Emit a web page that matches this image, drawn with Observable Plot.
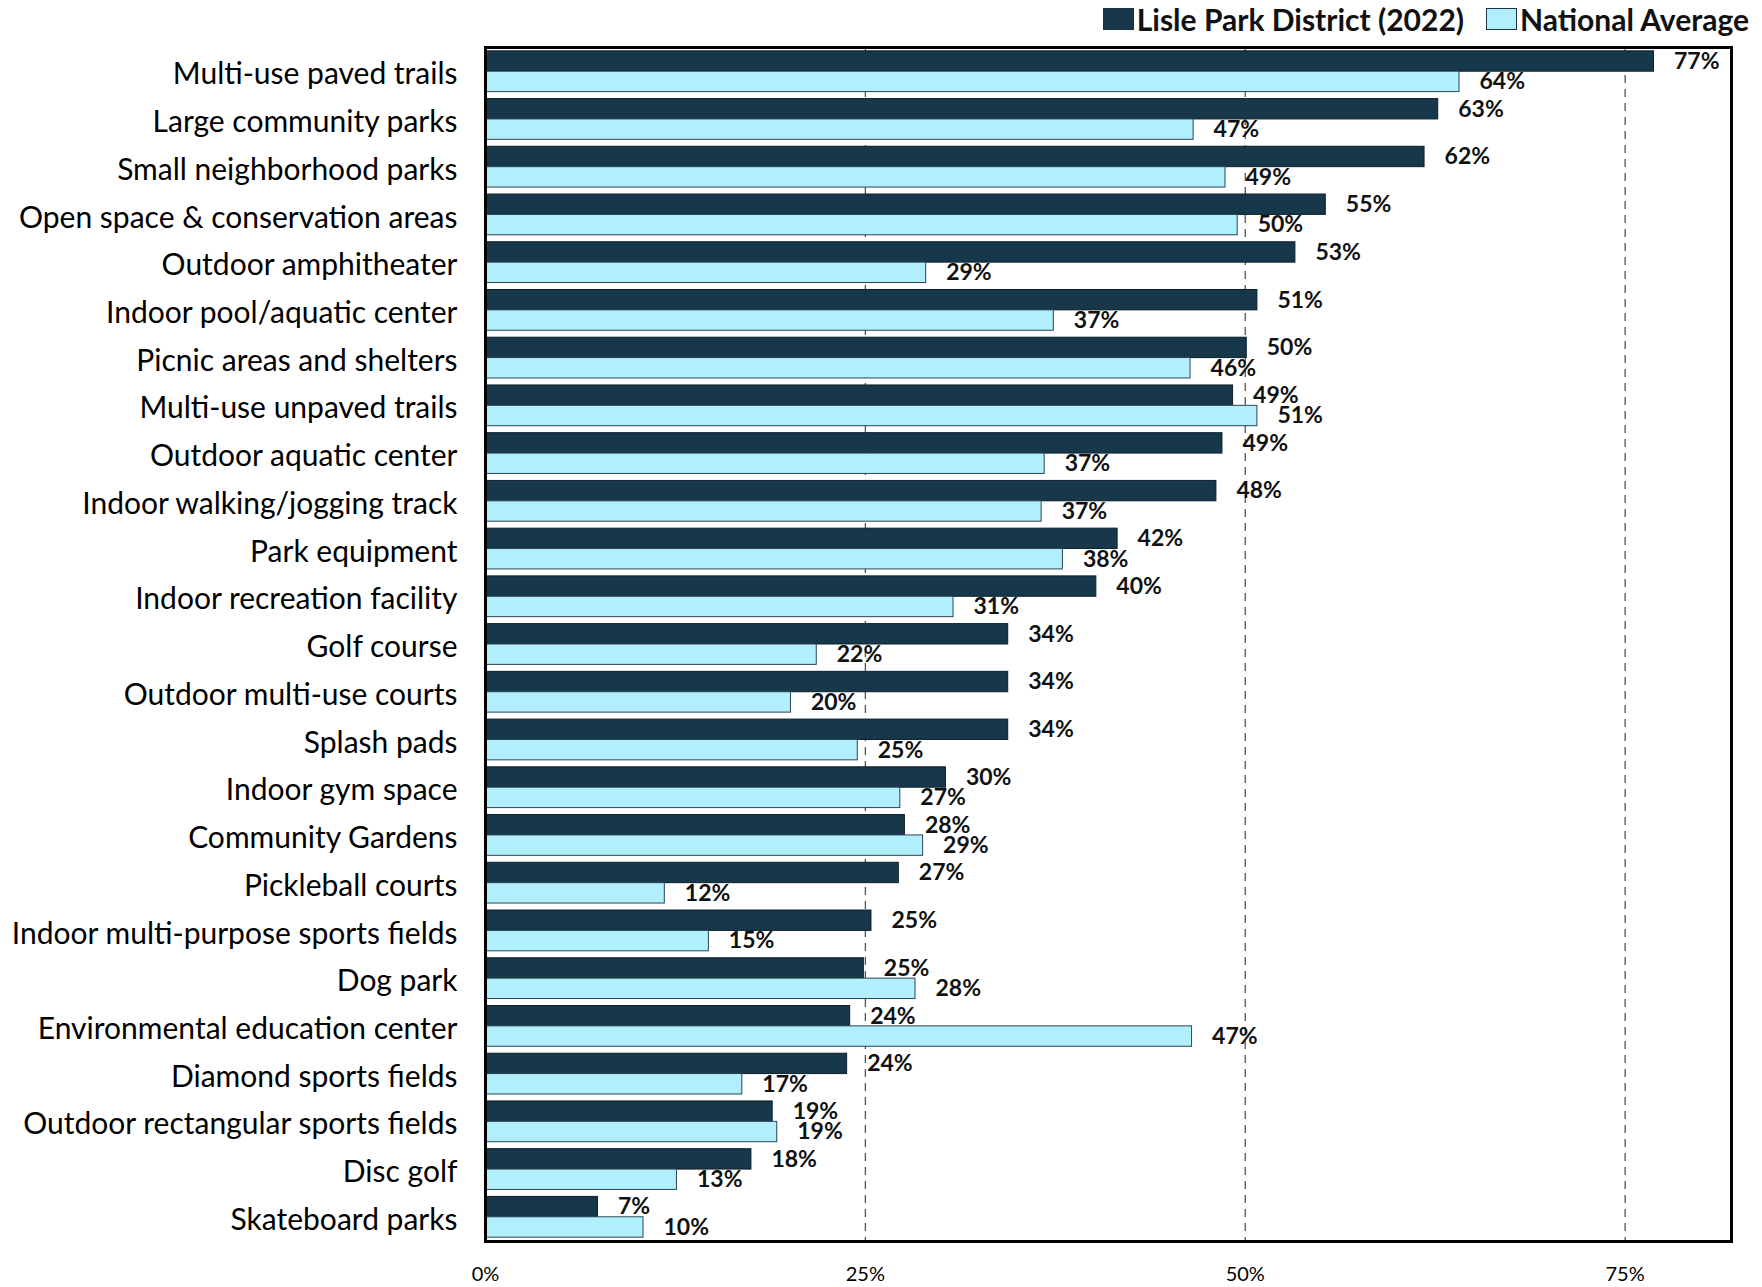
<!DOCTYPE html>
<html>
<head>
<meta charset="utf-8">
<script src="https://cdn.jsdelivr.net/npm/d3@7"></script>
<script src="https://cdn.jsdelivr.net/npm/@observablehq/plot@0.6"></script>
<style>
  html, body { margin: 0; padding: 0; background: #fff; }
  #wrap { position: relative; width: 1762px; height: 1287px; font-family: Lato, "Noto Sans", sans-serif; }
  #legend { position: absolute; top: 1px; right: 13px; display: flex; align-items: center; font-weight: bold; font-size: 30px; color: #111; z-index: 2; }
  #legend .item { display: flex; align-items: center; margin-left: 22px; }
  #legend .item:first-child { margin-left: 0; }
  #legend .sw { width: 31px; height: 22px; margin-right: 3px; box-sizing: border-box; border: 1px solid #1d3342; }
  #chart { position: absolute; left: 0; top: 0; }
</style>
</head>
<body>
<div id="wrap">
  <div id="legend"></div>
  <div id="chart"></div>
</div>
<script>
const categories = [
  "Multi-use paved trails",
  "Large community parks",
  "Small neighborhood parks",
  "Open space & conservation areas",
  "Outdoor amphitheater",
  "Indoor pool/aquatic center",
  "Picnic areas and shelters",
  "Multi-use unpaved trails",
  "Outdoor aquatic center",
  "Indoor walking/jogging track",
  "Park equipment",
  "Indoor recreation facility",
  "Golf course",
  "Outdoor multi-use courts",
  "Splash pads",
  "Indoor gym space",
  "Community Gardens",
  "Pickleball courts",
  "Indoor multi-purpose sports fields",
  "Dog park",
  "Environmental education center",
  "Diamond sports fields",
  "Outdoor rectangular sports fields",
  "Disc golf",
  "Skateboard parks"
];
const lisleValues = [76.9, 62.7, 61.8, 55.3, 53.3, 50.8, 50.1, 49.2, 48.5, 48.1, 41.6, 40.2, 34.4, 34.4, 34.4, 30.3, 27.6, 27.2, 25.4, 24.9, 24.0, 23.8, 18.9, 17.5, 7.4];
const nationalValues = [64.1, 46.6, 48.7, 49.5, 29.0, 37.4, 46.4, 50.8, 36.8, 36.6, 38.0, 30.8, 21.8, 20.1, 24.5, 27.3, 28.8, 11.8, 14.7, 28.3, 46.5, 16.9, 19.2, 12.6, 10.4];
const seriesNames = ["Lisle Park District (2022)", "National Average"];
const seriesColors = ["#17374b", "#b2effd"];
const tickValues = [0, 25, 50, 75];
const gridValues = [25, 50, 75];

const W = 1762, H = 1287;
const mTop = 47, mBottom = 46, mLeft = 485, mRight = 31;
const padIn = 0.146, padOut = 0.08;
const step = (H - mTop - mBottom) / (categories.length - padIn + 2 * padOut);
const bw = step * (1 - padIn);
const half = bw / 2;

const lisleData = categories.map((c, i) => ({category: c, series: seriesNames[0], value: lisleValues[i]}));
const natData = categories.map((c, i) => ({category: c, series: seriesNames[1], value: nationalValues[i]}));
const pct = d => Math.round(d.value) + "%";

const plot = Plot.plot({
  width: W,
  height: H,
  marginTop: mTop,
  marginBottom: mBottom,
  marginLeft: mLeft,
  marginRight: mRight,
  style: {fontFamily: "Lato, 'Noto Sans', sans-serif", fontSize: "30px", color: "#000", background: "transparent"},
  x: {domain: [0, 82], ticks: tickValues, tickFormat: d => d + "%", tickSize: 0, tickPadding: 25, label: null},
  y: {domain: categories, paddingInner: padIn, paddingOuter: padOut, round: false, tickSize: 0, tickPadding: 28, label: null},
  marks: [
    Plot.ruleX(gridValues, {stroke: "#555", strokeWidth: 1.3, strokeDasharray: "8,6"}),
    Plot.barX(lisleData, {x: "value", y: "category", fill: seriesColors[0], stroke: "#0c1f2b", strokeWidth: 1, insetBottom: half}),
    Plot.barX(natData, {x: "value", y: "category", fill: seriesColors[1], stroke: "#2a4454", strokeWidth: 1, insetTop: half}),
    Plot.text(lisleData, {x: "value", y: "category", text: pct, dx: 20, dy: -bw / 4, textAnchor: "start", fontWeight: "bold", fontSize: 23, fill: "#111"}),
    Plot.text(natData, {x: "value", y: "category", text: pct, dx: 20, dy: bw / 4, textAnchor: "start", fontWeight: "bold", fontSize: 23, fill: "#111"}),
    Plot.frame({stroke: "#000", strokeWidth: 3})
  ]
});
d3.select(plot).selectAll('g[aria-label^="x-axis"]').attr("font-size", 20);
d3.select(plot).selectAll('g[aria-label^="y-axis"]').attr("transform", function() {
  return (this.getAttribute("transform") || "") + " translate(0,3)";
});
document.getElementById("chart").appendChild(plot);

const legend = d3.select("#legend");
seriesNames.forEach((name, i) => {
  const item = legend.append("div").attr("class", "item");
  item.append("div").attr("class", "sw").style("background", seriesColors[i]);
  item.append("span").text(name);
});
</script>
</body>
</html>
